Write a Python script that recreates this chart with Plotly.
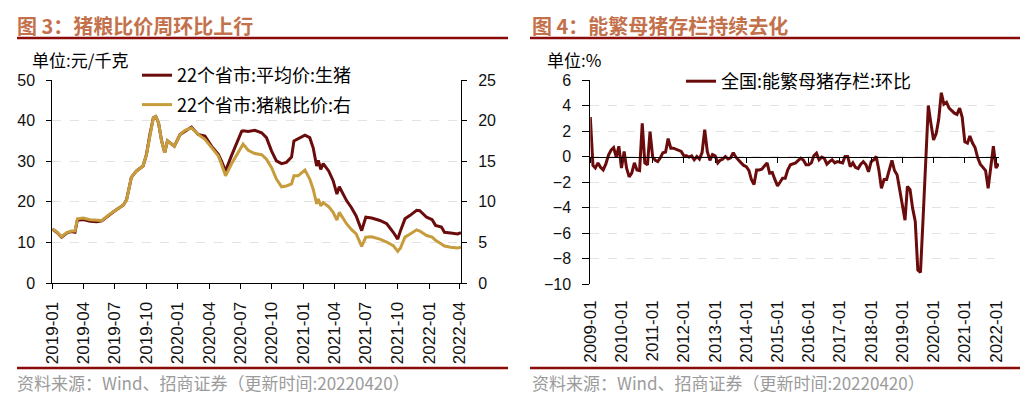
import plotly.graph_objects as go
import pandas as pd

W, H = 1033, 396

# ---------------- Left chart data (weekly-ish readings) ----------------
price_dates = [
    "2019-01-01", "2019-01-14", "2019-01-28", "2019-02-12", "2019-02-26", "2019-03-08",
    "2019-03-15", "2019-04-01", "2019-04-21", "2019-05-10", "2019-05-25", "2019-06-18",
    "2019-07-02", "2019-07-27", "2019-08-05", "2019-08-19", "2019-09-03", "2019-09-22",
    "2019-10-02", "2019-10-12", "2019-10-22", "2019-10-29", "2019-11-06", "2019-11-15",
    "2019-11-24", "2019-12-02", "2019-12-14", "2019-12-22", "2020-01-08", "2020-01-22",
    "2020-02-10", "2020-02-29", "2020-03-20", "2020-04-08", "2020-04-28", "2020-05-07",
    "2020-05-19", "2020-06-05", "2020-06-20", "2020-07-05", "2020-07-09", "2020-07-24",
    "2020-08-12", "2020-09-01", "2020-09-15", "2020-09-30", "2020-10-14", "2020-10-29",
    "2020-11-12", "2020-11-27", "2020-12-04", "2020-12-16", "2020-12-26", "2021-01-05",
    "2021-01-19", "2021-01-29", "2021-02-08", "2021-02-13", "2021-02-20", "2021-02-27",
    "2021-03-15", "2021-03-28", "2021-04-08", "2021-04-15", "2021-05-06", "2021-05-20",
    "2021-06-03", "2021-06-19", "2021-07-01", "2021-07-18", "2021-08-11", "2021-08-31",
    "2021-09-19", "2021-10-02", "2021-10-10", "2021-10-23", "2021-11-06", "2021-11-26",
    "2021-12-05", "2021-12-25", "2022-01-10", "2022-01-20", "2022-02-06", "2022-02-15",
    "2022-03-05", "2022-03-25", "2022-04-04",
]
hog_price = [
    13.3, 12.5, 11.3, 12.3, 12.7, 12.5,
    15.5, 15.6, 15.2, 15.1, 15.3, 17.0,
    17.8, 19.2, 20.5, 26.0, 27.6, 28.8,
    31.7, 36.6, 40.7, 41.0, 39.5, 35.0,
    32.1, 35.0, 34.2, 33.7, 36.6, 37.4,
    38.4, 36.6, 36.2, 33.7, 31.7, 30.1,
    27.6, 31.3, 34.2, 37.4, 37.5, 37.3,
    37.6, 37.0, 35.8, 32.5, 30.1, 29.4,
    29.7, 31.0, 35.0, 35.6, 36.0, 36.4,
    35.8, 33.3, 28.8, 30.2, 28.0, 29.4,
    27.6, 25.2, 21.9, 23.7, 20.3, 18.6,
    16.5, 12.9, 16.2, 16.0, 15.4, 14.6,
    12.5, 10.8, 12.9, 15.8, 16.6, 17.9,
    17.8, 16.2, 15.6, 14.2, 13.8, 12.5,
    12.3, 12.1, 12.4,
]
hog_grain_ratio = [
    6.65, 6.3, 5.7, 6.2, 6.4, 6.4,
    7.9, 8.0, 7.8, 7.7, 7.7, 8.5,
    8.9, 9.6, 10.2, 13.0, 13.8, 14.4,
    15.85, 18.3, 20.35, 20.5, 19.75, 17.5,
    16.05, 17.5, 17.1, 16.85, 18.3, 18.8,
    19.1, 18.3, 17.7, 16.65, 15.65, 14.65,
    13.2, 14.65, 15.7, 16.8, 17.1, 16.35,
    15.95, 15.8, 15.25, 14.2, 12.8, 11.85,
    11.95, 12.2, 13.2, 13.2, 13.6, 13.9,
    12.8, 11.55, 9.75, 10.35, 9.5, 9.9,
    9.4, 8.7, 7.75, 8.7, 7.3, 6.6,
    6.05, 4.5, 5.65, 5.7, 5.4, 5.05,
    4.6, 3.9, 4.3, 5.65, 6.0, 6.55,
    6.4, 5.85, 5.65, 5.25, 4.8, 4.55,
    4.4, 4.3, 4.4,
]
left_tickvals = ["2019-01-01", "2019-04-01", "2019-07-01", "2019-10-01", "2020-01-01",
                 "2020-04-01", "2020-07-01", "2020-10-01", "2021-01-01", "2021-04-01",
                 "2021-07-01", "2021-10-01", "2022-01-01", "2022-04-01"]
left_ticktext = ["2019-01", "2019-04", "2019-07", "2019-10", "2020-01", "2020-04", "2020-07",
                 "2020-10", "2021-01", "2021-04", "2021-07", "2021-10", "2022-01", "2022-04"]

# ---------------- Right chart data (monthly from 2009-01) ----------------
sow_mom = [
    3.1, -0.7, -0.9, -0.5, -0.85, -1.05, -0.6, 0.1, 0.5, 0.7, -0.05, 0.8,          # 2009
    -0.9, 0.4, -0.9, -1.6, -1.3, -0.5, -1.05, -1.1, 2.6, -0.5, -0.65, 1.95,        # 2010
    -0.05, -0.3, -0.4, -0.1, 0.3, 0.35, 1.4, 0.65, 0.65, 0.55, 0.5, 0.4,           # 2011
    0.05, 0.05, -0.05, 0.05, -0.25, 0.0, -0.2, 0.3, 2.1, 0.4, -0.3, 0.15,          # 2012
    0.05, -0.5, -0.3, -0.2, 0.0, -0.2, -0.1, 0.3, -0.05, -0.3, -0.5, -0.7,         # 2013
    -0.8, -1.1, -1.8, -2.2, -1.05, -1.05, -1.0, -0.75, -0.5, -1.3, -1.25, -1.8,    # 2014
    -2.3, -2.0, -1.7, -1.7, -1.05, -0.65, -0.6, -0.5, -0.3, -0.13, -0.3, -0.65,    # 2015
    -0.65, -0.5, 0.05, 0.26, -0.26, -0.05, -0.15, -0.6, -0.4, -0.26, -0.5, -0.4,   # 2016
    -0.45, -0.5, 0.0, 0.0, -0.8, -0.5, -0.85, -0.95, -0.6, -0.4, -0.65, -1.2,      # 2017
    -0.4, -0.26, 0.0, -1.05, -2.5, -1.8, -1.8, -1.05, -0.3, -1.1, -1.45, -2.6,     # 2018
    -3.7, -5.0, -2.35, -2.6, -4.05, -5.1, -8.9, -9.1, -4.8, -0.4, 4.0, 2.6,        # 2019
    1.3, 1.8, 2.9, 5.0, 4.1, 4.25, 3.8, 3.6, 3.4, 3.3, 3.8, 3.1,                   # 2020
    1.15, 1.05, 1.6, 1.05, 0.7, -0.1, -0.6, -0.85, -1.1, -2.5, -0.6, 0.8,          # 2021
    -0.9, -0.55,                                                                   # 2022
]
sow_dates = pd.date_range("2009-01-01", periods=len(sow_mom), freq="MS")
right_tickvals = ["2009-01-01", "2010-01-01", "2011-01-01", "2012-01-01", "2013-01-01",
                  "2014-01-01", "2015-01-01", "2016-01-01", "2017-01-01", "2018-01-01",
                  "2019-01-01", "2020-01-01", "2021-01-01", "2022-01-01"]
right_ticktext = ["2009-01", "2010-01", "2011-01", "2012-01", "2013-01", "2014-01", "2015-01",
                  "2016-01", "2017-01", "2018-01", "2019-01", "2020-01", "2021-01", "2022-01"]

# ---------------- styling ----------------
DARK = "#6A0C0C"
GOLD = "#C79C3C"
RULE = "#8B0A0A"
TITLE_C = "#C3714B"
GRID = "#E3E3E3"
NUM_FONT = "Liberation Sans, Arial, sans-serif"
CJK_FONT = "Noto Sans CJK SC, sans-serif"


def px(x):
    return x / W


def py(y):
    return 1 - y / H


L_X0, L_X1 = 52.3, 461.0
R_X0, R_X1 = 590.3, 999.0
PLOT_TOP, L_BOT, R_BOT = 80.0, 283.0, 284.0

fig = go.Figure()

fig.add_trace(go.Scatter(x=price_dates, y=hog_price, mode="lines", name="22个省市:平均价:生猪",
                         line=dict(color=DARK, width=3), xaxis="x", yaxis="y",
                         legend="legend", legendgroup="a"))
fig.add_trace(go.Scatter(x=price_dates, y=hog_grain_ratio, mode="lines", name="22个省市:猪粮比价:右",
                         line=dict(color=GOLD, width=3), xaxis="x", yaxis="y3",
                         legend="legend", legendgroup="b"))
fig.add_trace(go.Scatter(x=sow_dates, y=sow_mom, mode="lines", name="全国:能繁母猪存栏:环比",
                         line=dict(color=DARK, width=3), xaxis="x2", yaxis="y2",
                         legend="legend2"))
# helper trace so that the zero-line axis (x4) is drawn
fig.add_trace(go.Scatter(x=[sow_dates[0]], y=[None], mode="lines", showlegend=False,
                         xaxis="x4", yaxis="y2", hoverinfo="skip"))

tickfont = dict(family=NUM_FONT, size=16, color="#111111")
xtickfont = dict(family=NUM_FONT, size=17, color="#111111")

r_ymin, r_ymax = -10, 6
r_dom = [py(R_BOT), py(PLOT_TOP)]
zero_pos = r_dom[0] + (0 - r_ymin) / (r_ymax - r_ymin) * (r_dom[1] - r_dom[0])

fig.update_layout(
    width=W, height=H, autosize=False,
    margin=dict(l=0, r=0, t=0, b=0, pad=0, autoexpand=False),
    paper_bgcolor="white", plot_bgcolor="white",
    showlegend=True,
    xaxis=dict(domain=[px(L_X0), px(L_X1)], range=["2019-01-01", "2022-04-04"],
               tickmode="array", tickvals=left_tickvals, ticktext=left_ticktext,
               tickangle=-90, ticks="outside", ticklen=5, tickcolor="black",
               showline=True, linecolor="black", linewidth=1, showgrid=False,
               zeroline=False, tickfont=xtickfont, anchor="y", ticklabelstandoff=6,
               automargin=False),
    yaxis=dict(domain=[py(L_BOT), py(PLOT_TOP)], range=[0, 50], dtick=10,
               ticks="outside", ticklen=5, tickcolor="black", showline=True,
               linecolor="black", linewidth=1, showgrid=True, gridcolor=GRID,
               griddash="dash", gridwidth=1, zeroline=False, tickfont=tickfont,
               anchor="x", ticklabelstandoff=8, automargin=False),
    yaxis3=dict(overlaying="y", side="right", anchor="x", range=[0, 25], dtick=5,
                ticks="outside", ticklen=5, tickcolor="black", showline=True,
                linecolor="black", linewidth=1, showgrid=False, zeroline=False,
                tickfont=tickfont, ticklabelstandoff=8, automargin=False),
    xaxis2=dict(domain=[px(R_X0), px(R_X1)], range=["2009-01-01", "2022-02-05"],
                tickmode="array", tickvals=right_tickvals, ticktext=right_ticktext,
                tickangle=-90, ticks="", showline=False, showgrid=False, zeroline=False,
                tickfont=xtickfont, anchor="y2", ticklabelstandoff=12, automargin=False),
    xaxis4=dict(overlaying="x2", anchor="free", position=zero_pos,
                range=["2009-01-01", "2022-02-05"], tickmode="array",
                tickvals=right_tickvals, showticklabels=False, ticks="outside",
                ticklen=5, tickcolor="black", showline=True, linecolor="black",
                linewidth=1, showgrid=False, zeroline=False, automargin=False),
    yaxis2=dict(domain=r_dom, range=[r_ymin, r_ymax], dtick=2, ticks="outside",
                ticklen=7, tickcolor="black", showline=True, linecolor="black",
                linewidth=1, showgrid=True, gridcolor=GRID, griddash="dash",
                zeroline=False, tickfont=tickfont, anchor="x2", ticklabelstandoff=8,
                automargin=False),
    legend=dict(x=px(137), y=py(57), xanchor="left", yanchor="top",
                bgcolor="rgba(0,0,0,0)", traceorder="grouped", tracegroupgap=3,
                font=dict(family=CJK_FONT, size=18, color="black")),
    legend2=dict(x=px(681), y=py(63), xanchor="left", yanchor="top",
                 bgcolor="rgba(0,0,0,0)",
                 font=dict(family=CJK_FONT, size=18, color="black")),
)

# titles, unit labels, source notes
annos = [
    dict(text="<b>图 3：猪粮比价周环比上行</b>", x=px(15), y=py(25), size=20, color=TITLE_C),
    dict(text="<b>图 4：能繁母猪存栏持续去化</b>", x=px(530), y=py(25), size=20, color=TITLE_C),
    dict(text="单位:元/千克", x=px(30), y=py(60), size=17, color="black"),
    dict(text="单位:%", x=px(545), y=py(60), size=17, color="black"),
    dict(text="资料来源：Wind、招商证券（更新时间:20220420）", x=px(15), y=py(382), size=17,
         color="#9B9B9B"),
    dict(text="资料来源：Wind、招商证券（更新时间:20220420）", x=px(530), y=py(382), size=17,
         color="#9B9B9B"),
]
for a in annos:
    fig.add_annotation(text=a["text"], x=a["x"], y=a["y"], xref="paper", yref="paper",
                       xanchor="left", yanchor="middle", showarrow=False,
                       font=dict(family=CJK_FONT, size=a["size"], color=a["color"]))

# red rule lines
for x0, x1 in [(17, 508), (530, 1020)]:
    for yy in (38, 368):
        fig.add_shape(type="line", xref="paper", yref="paper", x0=px(x0), x1=px(x1),
                      y0=py(yy), y1=py(yy), line=dict(color=RULE, width=2.5))

fig.write_html(
    "out.html",
    config={"displayModeBar": False},
    post_script="document.body.style.margin='0px';document.body.style.padding='0px';"
                "document.body.style.overflow='hidden';",
)
